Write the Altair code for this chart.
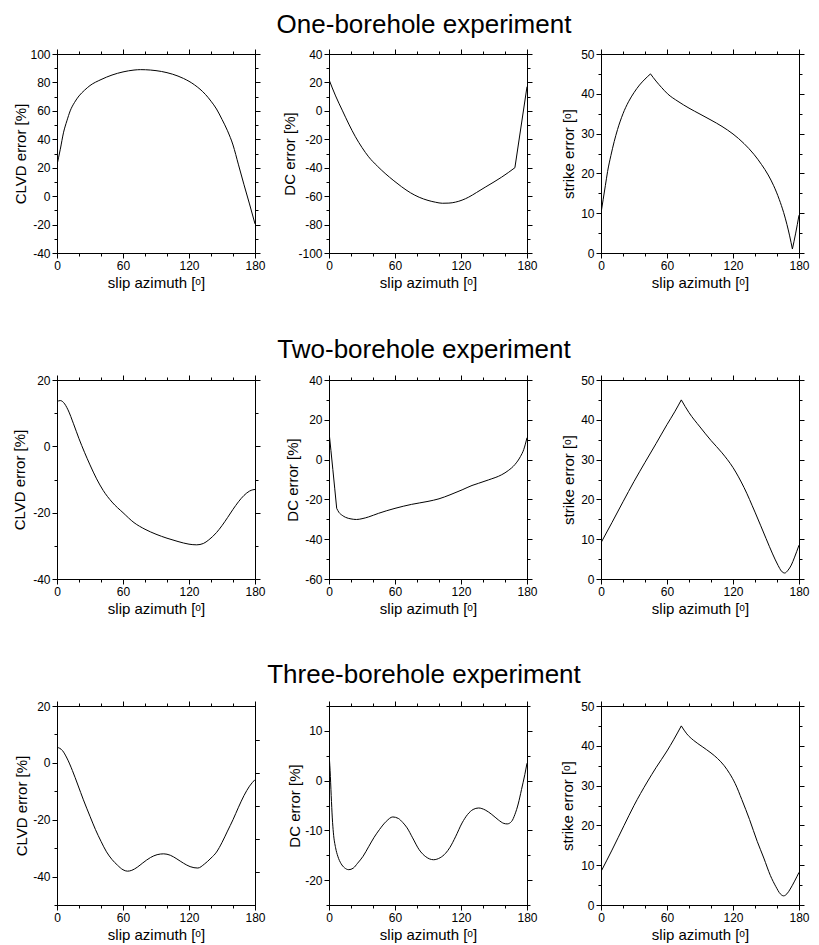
import altair as alt
import pandas as pd

FONT = "Liberation Sans"
XT = "slip azimuth [ᵒ]"

# ---------------- Row 1: One-borehole ----------------
r1_clvd_x = [0, 3, 6, 9, 12, 16, 20, 25, 30, 40, 50, 60, 70, 76, 85, 95, 105, 115, 125, 135, 140, 145, 150, 155, 160, 165, 170, 175, 180]
r1_clvd_y = [22, 33, 45, 53, 60, 66, 70.5, 74.5, 77.8, 82, 85.2, 87.4, 88.7, 89, 88.7, 87.7, 85.8, 82.8, 78.3, 71.5, 66.8, 61.3, 54, 46, 36, 22, 8, -5.5, -19.5]
r1_clvd_breaks = []

r1_dc_x = [0, 6, 12, 18, 24, 30, 36, 44, 51, 59, 66, 74, 82, 90, 97, 103, 109, 115, 121, 127, 134, 142, 150, 157, 163, 169, 180]
r1_dc_y = [22, 10.5, 0.5, -9.3, -18.2, -25.8, -32.3, -38.9, -44, -49.2, -53.4, -57.6, -60.8, -63, -64.3, -65, -64.9, -64.2, -62.8, -60.7, -57.5, -53.7, -50, -46.6, -43.4, -40, 17]
r1_dc_breaks = [169]

r1_st_x = [0, 2, 4, 6, 9, 12, 15, 20, 25, 30, 35, 40, 45, 50, 55, 60.5, 70, 80, 90, 100, 110, 120, 130, 139, 146, 152, 157, 162, 166, 169, 171.5, 174, 177, 180]
r1_st_y = [10, 13.5, 17, 20.5, 24.5, 28, 31, 35, 38, 40.3, 42.2, 43.7, 45, 43.2, 41.6, 40, 38.1, 36.4, 34.9, 33.4, 31.8, 29.9, 27.5, 24.8, 22.2, 19.6, 16.9, 13.5, 10.2, 7.2, 4.3, 1, 5, 9.5]
r1_st_breaks = [45, 174]

# ---------------- Row 2: Two-borehole ----------------
r2_clvd_x = [0, 3, 6, 10, 15, 20, 25, 30, 36, 42, 50, 60, 70, 80, 90, 100, 110, 120, 127, 133, 138, 145, 150, 155, 160, 165, 170, 175, 178, 180]
r2_clvd_y = [13.5, 13.8, 13.2, 11, 6.8, 2.3, -1.8, -5.6, -9.8, -13.3, -16.8, -20, -23, -25, -26.5, -27.7, -28.7, -29.5, -29.7, -29.3, -28.2, -26, -23.9, -21.5, -19, -16.7, -14.8, -13.5, -13.1, -13]
r2_clvd_breaks = []

r2_dc_x = [0, 3.5, 7, 9, 12, 15, 20, 25, 30, 36, 45, 60, 75, 90, 100, 110, 121, 130, 136, 145, 157, 163, 169, 174, 177, 180]
r2_dc_y = [14, -5, -24.5, -26.5, -28, -29, -29.8, -30.1, -29.7, -28.8, -27, -24.5, -22.5, -21, -19.7, -17.7, -15.2, -13, -11.9, -10.2, -7.6, -5.5, -2.5, 1.5, 5, 11]
r2_dc_breaks = [7]

r2_st_x = [0, 10, 20, 30, 40, 50, 60, 67, 73, 80, 90, 100, 110, 120, 130, 140, 150, 156, 161, 164, 167, 170, 173, 176, 180]
r2_st_y = [9.1, 14.2, 19.4, 24.5, 29.3, 34, 38.8, 42, 45, 41.8, 38.2, 34.8, 31.7, 28, 23, 16.8, 10.2, 6.3, 3.4, 2, 1.5, 2.2, 3.5, 5.5, 8.5]
r2_st_breaks = [73]

# ---------------- Row 3: Three-borehole ----------------
r3_clvd_x = [0, 5, 9, 14, 19, 24, 30, 35, 40, 45, 50, 55, 60, 64, 68, 73, 78, 85, 91, 97, 103, 109, 115, 121, 128, 134, 140, 145, 150, 155, 160, 165, 170, 175, 180]
r3_clvd_y = [5.5, 4.3, 1.7, -2.7, -7.8, -13, -18.8, -23.5, -27.6, -31.3, -34, -36, -37.6, -38.1, -37.8, -36.7, -35.2, -33.3, -32.3, -32, -32.5, -33.8, -35.3, -36.5, -37, -35.6, -33.5, -31.4, -28, -24, -20, -15.6, -11.5, -8.2, -5.9]
r3_clvd_breaks = []

r3_dc_x = [0, 1, 2, 3, 4, 6, 8, 11, 14, 18, 22, 26, 31, 36, 41, 46, 52, 58, 63, 67, 71, 76, 82, 88, 95, 101, 106, 110, 115, 121, 126, 131, 136, 142, 148, 154, 159, 162, 166, 169, 172, 175, 178, 180]
r3_dc_y = [5.5, 2, -3, -7.5, -10.5, -13.5, -15.2, -16.7, -17.5, -17.9, -17.6, -16.6, -15.2, -13.3, -11.4, -9.8, -8.2, -7.3, -7.6, -8.4, -9.5, -11.5, -13.9, -15.3, -15.9, -15.5, -14.6, -13.4, -11.3, -8.5, -6.8, -5.8, -5.5, -5.9, -6.8, -7.9, -8.6, -8.7, -8.2, -6.8, -4.7, -1.8, 1.2, 3.5]
r3_dc_breaks = []

r3_st_x = [0, 10, 21, 30, 42, 50, 60, 66, 73, 78, 84, 92, 100, 106, 112, 117, 122, 128, 135, 142, 148, 154, 159, 163, 166, 169, 172, 176, 180]
r3_st_y = [8.4, 13.8, 20, 25, 30.9, 34.5, 38.7, 41.5, 45, 43, 41.4, 39.8, 38.2, 36.8, 35, 33, 30.5, 26.5, 21.5, 16, 11.8, 7.4, 4.6, 2.8, 2.3, 2.8, 4, 6, 8.2]
r3_st_breaks = [73]

# right-axis ticks of the lower-left panel (irregular in the original)
r3_clvd_right = [8.1, -3.6, -15.1, -26.7, -38.4]

TITLES = ["One-borehole experiment", "Two-borehole experiment", "Three-borehole experiment"]

W, H = 198, 199


def make_df(xs, ys, breaks):
    rows = []
    seg = 0
    for x, y in zip(xs, ys):
        rows.append({"x": x, "y": y, "seg": seg})
        if x in breaks:
            seg += 1
            rows.append({"x": x, "y": y, "seg": seg})
    return pd.DataFrame(rows)


def srange(a, b, s):
    out = []
    v = a
    while v <= b + 1e-9:
        out.append(v)
        v += s
    return out


def axis(**kw):
    base = dict(grid=False, domainColor="black", tickColor="black", labelColor="black",
                titleColor="black", labelFont=FONT, titleFont=FONT, labelFontSize=12,
                titleFontSize=15, titleFontWeight="normal", domainWidth=1, tickWidth=1)
    base.update(kw)
    return alt.Axis(**base)


def panel(xs, ys, breaks, ytitle, ydom, ymajor, yminor, title_x, right_major=None,
          right_minor=None, head=None, head_dy=None):
    df = make_df(xs, ys, breaks)
    xsc = alt.Scale(domain=[0, 180], nice=False, zero=False)
    ysc = alt.Scale(domain=ydom, nice=False, zero=False)
    xmaj = [0, 60, 120, 180]
    xmin = srange(0, 180, 20)
    rmaj = right_major if right_major is not None else ymajor
    rmin = right_minor if right_minor is not None else yminor

    main = alt.Chart(df).mark_line(color="black", strokeWidth=1, interpolate="monotone", clip=True).encode(
        x=alt.X("x:Q", scale=xsc, axis=axis(orient="bottom", values=xmaj, tickSize=5, labelPadding=2,
                                              title=XT, titleY=34, titleBaseline="alphabetic",
                                              labelExpr="'' + datum.value", labelFlush=False)),
        y=alt.Y("y:Q", scale=ysc, axis=axis(orient="left", values=ymajor, tickSize=5, labelPadding=2,
                                              title=ytitle, titleX=title_x, titleBaseline="alphabetic",
                                              labelExpr="'' + datum.value", labelFlush=False)),
        detail="seg:N",
    )
    minor_bl = alt.Chart(df).mark_line(opacity=0).encode(
        x=alt.X("x:Q", scale=xsc, axis=axis(orient="bottom", values=xmin, tickSize=3, labels=False, title=None)),
        y=alt.Y("y:Q", scale=ysc, axis=axis(orient="left", values=yminor, tickSize=3, labels=False, title=None)),
        detail="seg:N",
    )
    major_tr = alt.Chart(df).mark_line(opacity=0).encode(
        x=alt.X("x:Q", scale=xsc, axis=axis(orient="top", values=xmaj, tickSize=5, labels=False, title=None)),
        y=alt.Y("y:Q", scale=ysc, axis=axis(orient="right", values=rmaj, tickSize=5 if right_major is None else 4,
                                              labels=False, title=None)),
        detail="seg:N",
    )
    minor_tr = alt.Chart(df).mark_line(opacity=0).encode(
        x=alt.X("x:Q", scale=xsc, axis=axis(orient="top", values=xmin, tickSize=3, labels=False, title=None)),
        y=alt.Y("y:Q", scale=ysc, axis=axis(orient="right", values=rmin, tickSize=3 if right_minor is None else 4,
                                              labels=False, title=None)),
        detail="seg:N",
    )
    layers = [main, minor_bl, major_tr, minor_tr]
    if head is not None:
        txt = alt.Chart(pd.DataFrame({"t": [head]})).mark_text(
            font=FONT, fontSize=26, color="black", align="center", baseline="alphabetic"
        ).encode(x=alt.value(W / 2 - 4), y=alt.value(head_dy), text="t:N")
        layers.append(txt)
    return alt.layer(*layers).resolve_axis(x="independent", y="independent").properties(width=W, height=H)


panels = [
    panel(r1_clvd_x, r1_clvd_y, r1_clvd_breaks, "CLVD error [%]", [-40, 100], srange(-40, 100, 20), srange(-40, 100, 10), -32),
    panel(r1_dc_x, r1_dc_y, r1_dc_breaks, "DC error [%]", [-100, 40], srange(-100, 40, 20), srange(-100, 40, 10), -35,
          head=TITLES[0], head_dy=-21),
    panel(r1_st_x, r1_st_y, r1_st_breaks, "strike error [ᵒ]", [0, 50], srange(0, 50, 10), srange(0, 50, 5), -28),
    panel(r2_clvd_x, r2_clvd_y, r2_clvd_breaks, "CLVD error [%]", [-40, 20], srange(-40, 20, 20), srange(-40, 20, 10), -33),
    panel(r2_dc_x, r2_dc_y, r2_dc_breaks, "DC error [%]", [-60, 40], srange(-60, 40, 20), srange(-60, 40, 10), -32,
          head=TITLES[1], head_dy=-22),
    panel(r2_st_x, r2_st_y, r2_st_breaks, "strike error [ᵒ]", [0, 50], srange(0, 50, 10), srange(0, 50, 5), -28),
    panel(r3_clvd_x, r3_clvd_y, r3_clvd_breaks, "CLVD error [%]", [-50, 20], [-40, -20, 0, 20], srange(-50, 20, 10), -31,
          right_major=r3_clvd_right, right_minor=r3_clvd_right),
    panel(r3_dc_x, r3_dc_y, r3_dc_breaks, "DC error [%]", [-25, 15], [-20, -10, 0, 10], srange(-25, 15, 5), -30,
          head=TITLES[2], head_dy=-23),
    panel(r3_st_x, r3_st_y, r3_st_breaks, "strike error [ᵒ]", [0, 50], srange(0, 50, 10), srange(0, 50, 5), -29),
]

chart = alt.concat(*panels, columns=3, spacing={"row": 127, "column": 74}, bounds="flush").configure_view(
    stroke=None
).properties(
    autosize=alt.AutoSizeParams(type="none"),
    padding={"left": 49, "top": 46, "right": 754, "bottom": 889},
    background="white",
)

chart.save("out.html", embed_options={"renderer": "svg", "actions": False})
